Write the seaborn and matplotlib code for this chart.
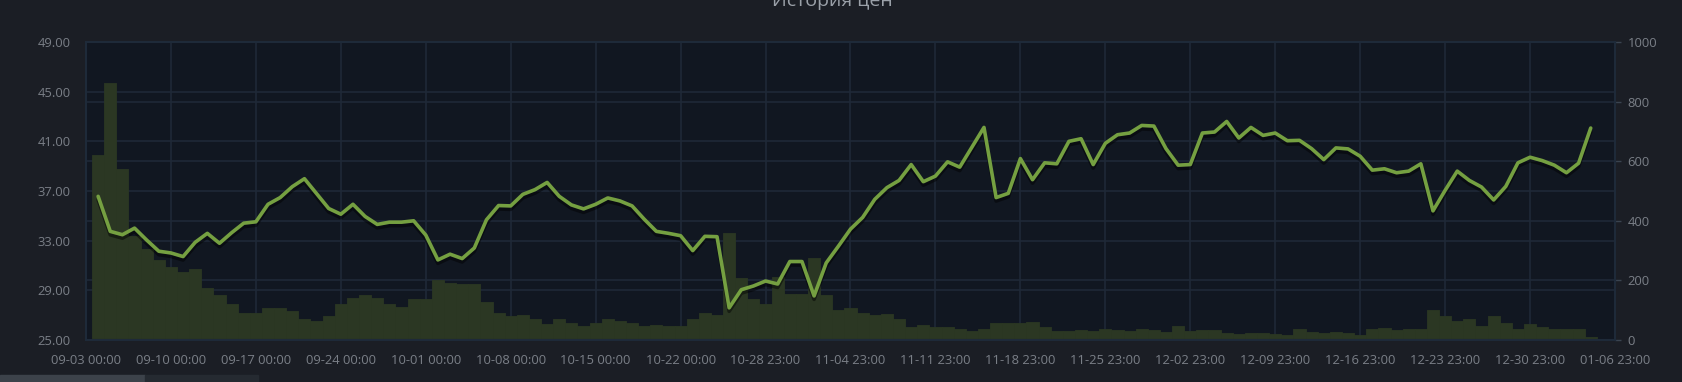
import matplotlib
matplotlib.use("Agg")
import matplotlib.pyplot as plt
import matplotlib.patheffects as pe
from matplotlib.patches import Rectangle
import seaborn as sns

# ---------------- data ----------------
title = "История цен"

price_days = list(range(1, 125))
prices = [
    36.57, 33.75, 33.48, 34.01, 33.05, 32.15, 32.01, 31.72, 32.87, 33.59,
    32.79, 33.64, 34.41, 34.52, 35.93, 36.47, 37.35, 37.99, 36.79, 35.59,
    35.13, 35.93, 34.95, 34.31, 34.49, 34.49, 34.60, 33.45, 31.45, 31.91,
    31.56, 32.41, 34.68, 35.83, 35.80, 36.73, 37.11, 37.69, 36.57, 35.88,
    35.56, 35.93, 36.44, 36.20, 35.80, 34.73, 33.75, 33.59, 33.40, 32.20,
    33.35, 33.32, 27.59, 29.05, 29.35, 29.75, 29.51, 31.32, 31.32, 28.55,
    31.21, 32.55, 33.93, 34.87, 36.33, 37.27, 37.85, 39.13, 37.75, 38.20,
    39.35, 38.92, 40.52, 42.12, 36.47, 36.81, 39.61, 37.91, 39.27, 39.19,
    41.00, 41.21, 39.13, 40.84, 41.53, 41.67, 42.28, 42.23, 40.41, 39.08,
    39.13, 41.67, 41.75, 42.60, 41.27, 42.12, 41.48, 41.67, 41.05, 41.08,
    40.41, 39.53, 40.47, 40.39, 39.80, 38.68, 38.79, 38.47, 38.60, 39.19,
    35.40, 37.05, 38.60, 37.85, 37.32, 36.28, 37.37, 39.27, 39.72, 39.45,
    39.08, 38.47, 39.24, 42.07,
]

volume_days = list(range(1, 126))
volumes = [
    622, 864, 574, 350, 306, 269, 244, 228, 239, 174,
    150, 120, 91, 91, 106, 108, 98, 69, 63, 82,
    122, 141, 150, 142, 122, 111, 136, 136, 203, 191,
    189, 187, 128, 89, 80, 83, 70, 53, 69, 58,
    47, 56, 72, 63, 56, 48, 50, 47, 47, 71,
    89, 83, 359, 209, 137, 120, 211, 153, 153, 276,
    150, 100, 106, 89, 83, 87, 69, 44, 50, 42,
    44, 38, 31, 36, 56, 56, 58, 61, 44, 31,
    31, 33, 31, 38, 33, 31, 37, 33, 28, 47,
    30, 33, 33, 24, 20, 24, 22, 20, 18, 36,
    27, 22, 26, 22, 17, 36, 39, 33, 36, 37,
    100, 80, 64, 69, 48, 80, 56, 38, 53, 44,
    38, 36, 36, 11, 2,
]

tick_days = list(range(0, 127, 7))
tick_labels = [
    "09-03 00:00", "09-10 00:00", "09-17 00:00", "09-24 00:00", "10-01 00:00",
    "10-08 00:00", "10-15 00:00", "10-22 00:00", "10-28 23:00", "11-04 23:00",
    "11-11 23:00", "11-18 23:00", "11-25 23:00", "12-02 23:00", "12-09 23:00",
    "12-16 23:00", "12-23 23:00", "12-30 23:00", "01-06 23:00",
]
price_ticks = [25, 29, 33, 37, 41, 45, 49]
volume_ticks = [0, 200, 400, 600, 800, 1000]

# ---------------- style ----------------
sns.set_theme(style="dark")
plt.rcParams['font.family'] = ['Open Sans', 'DejaVu Sans']

FIG_BG = "#1b1e25"
AX_BG = "#111721"
GRID = "#1f2937"
BAR = "#2b3723"
LINE = "#75a041"
TXT = "#7a7f87"
SPINE = "#1e2a39"
FS = 9.4

W, H = 1683, 382
fig = plt.figure(figsize=(W / 100, H / 100), dpi=100, facecolor=FIG_BG)
ax = fig.add_axes([86 / W, 42 / H, (1615 - 86) / W, 298 / H])
ax.set_facecolor(AX_BG)

# volume bars (right axis)
sns.barplot(x=volume_days, y=volumes, native_scale=True, width=1.0, color=BAR,
            saturation=1, errorbar=None, linewidth=0.6, edgecolor=BAR, ax=ax)
ax.set_xlabel("")
ax.set_ylabel("")

# price line (left axis)
ax2 = ax.twinx()
sns.lineplot(x=price_days, y=prices, ax=ax2, color=LINE, lw=2.6,
             path_effects=[pe.SimpleLineShadow(offset=(0, -2.5), shadow_color='black', alpha=0.45),
                           pe.Normal()])

ax.set_xlim(0, 126)
ax.set_ylim(0, 1000)
ax.yaxis.tick_right()
ax.yaxis.set_label_position('right')
ax.set_yticks(volume_ticks)
ax.set_yticklabels([str(v) for v in volume_ticks])
ax.set_yticks([(p - 25) / 24 * 1000 for p in price_ticks], minor=True)
ax.set_xticks(tick_days)
ax.set_xticklabels(tick_labels)
ax.set_axisbelow(True)
ax.grid(True, which='both', axis='y', color=GRID, lw=1.2)
ax.grid(True, which='major', axis='x', color=GRID, lw=1.2)
ax.tick_params(axis='x', colors=TXT, labelsize=FS, length=0, pad=10)
ax.tick_params(axis='y', which='major', labelcolor=TXT, labelsize=FS, length=4,
               width=1, pad=5, color="#3a4450", left=False, labelleft=False,
               right=True, labelright=True)
ax.tick_params(axis='y', which='minor', length=0, left=False, right=False)

ax2.set_ylim(25, 49)
ax2.set_xlim(0, 126)
ax2.set_yticks(price_ticks)
ax2.set_yticklabels([f"{p:.2f}" for p in price_ticks])
ax2.yaxis.tick_left()
ax2.yaxis.set_label_position('left')
ax2.grid(False)
ax2.tick_params(axis='y', colors=TXT, labelsize=FS, length=0, pad=11,
                left=True, labelleft=True, right=False, labelright=False)
ax2.set_ylabel("")
ax2.set_xlabel("")

for a in (ax, ax2):
    for s in a.spines.values():
        s.set_color(SPINE)
        s.set_linewidth(1.5)

fig.text(832 / W, 1 - 1 / H, title, ha='center', va='center', fontsize=14,
         color="#9aa0a8")

# scroll bar remnant at bottom-left
fig.patches.append(Rectangle((0, 0), 145 / W, 7 / H, transform=fig.transFigure,
                             color="#3c424a", zorder=5))
fig.patches.append(Rectangle((145 / W, 0), 113 / W, 7 / H, transform=fig.transFigure,
                             color="#252a31", zorder=5))

fig.savefig("out.png", dpi=100, facecolor=FIG_BG)
